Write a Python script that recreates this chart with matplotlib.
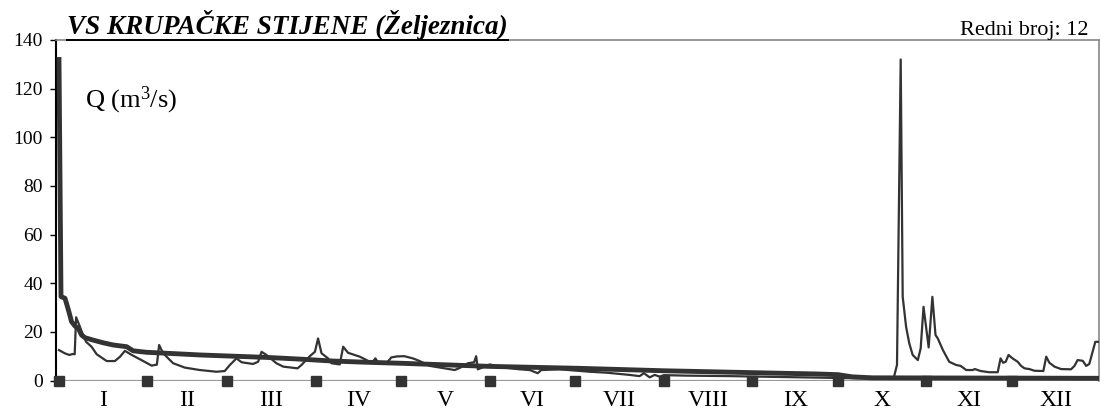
import numpy as np
import matplotlib
matplotlib.use("Agg")
import matplotlib.pyplot as plt
from matplotlib.lines import Line2D

plt.rcParams['font.family'] = ['Liberation Serif', 'DejaVu Serif']
plt.rcParams['mathtext.fontset'] = 'custom'
plt.rcParams['mathtext.rm'] = 'Liberation Serif'
plt.rcParams['mathtext.it'] = 'Liberation Serif:italic'

# Dnevni proticaji (dan u godini, Q m3/s) - tanka linija
dan_q = [0, 2, 3.6, 4.8, 5.5, 6, 7.1, 8, 9.5, 11.4, 13.2, 16.7, 19.6, 21.4, 23.1, 25.5,
         28.4, 32.5, 33.6, 34.3, 35.1, 36.5, 40, 44.1, 49.4, 55.2, 58.1, 59.9, 62.2, 64,
         68, 69.8, 71, 72.7, 76.2, 78.6, 81.5, 83.6, 85, 87.9, 89.7, 90.8, 92, 94.3, 95.5,
         98.4, 99.6, 101.3, 105.4, 107.8, 109.5, 110.9, 112, 114.8, 116.5, 118.5, 121, 124,
         126.4, 130, 135, 138.7, 140.5, 143.3, 145.5, 146.2, 146.8, 151, 156, 161.5, 165,
         167.8, 169, 175.5, 186, 192, 196.5, 200, 203.5, 205, 207, 208.8, 210.5, 212, 220,
         235, 250, 265, 280, 292.5, 293.7, 295, 295.7, 296.9, 298, 299.2, 301, 302, 303,
         304.8, 306.1, 307.2, 308, 309.8, 312, 314.4, 316, 318, 320.2, 321, 323, 326, 329,
         330, 330.9, 331.8, 332.8, 334.2, 336, 337.2, 338.4, 340.1, 341.9, 345, 346, 347.1,
         348.9, 351.2, 354.7, 355.9, 357, 358.8, 360, 361.1, 363.2, 364.5]
q_dnevni = [12.5, 11.2, 10.5, 10.9, 10.8, 26, 22.8, 20, 15.9, 13.9, 10.8, 8, 8, 9.8, 12.2, 10.5,
            8.7, 6.1, 6.4, 6.5, 14.6, 11.2, 7.1, 5.3, 4.3, 3.6, 3.9, 6.4, 9.1, 7.5,
            6.8, 7.7, 11.8, 10.5, 7.1, 5.7, 5.3, 5, 6.4, 10, 11.8, 17.3, 11.2, 9.1, 7.1,
            6.6, 13.9, 11.4, 9.8, 8.4, 7.1, 9.1, 7.1, 7.2, 9.5, 9.9, 10, 9.1,
            8.0, 6.0, 5.0, 4.3, 5.2, 7.1, 7.5, 10, 4.6, 6.6, 5.3, 4.6, 4.3,
            3.0, 4.3, 4.6, 3.6, 3.2, 2.7, 2.3, 1.8, 3.0, 1.3, 2.3, 1.6, 2.2, 2.0,
            1.8, 1.5, 1.2, 0.9, 0.8, 6.4, 132, 34.4, 22, 15.3, 10.5, 8.4, 13.2, 30.3,
            13.6, 34.4, 18.7, 17.3, 12.5, 7.7, 6.4, 6, 4.3, 4.3, 4.7, 3.9, 3.4, 3.4,
            9.1, 7.3, 7.7, 10.5, 9.1, 7.7, 6, 5, 4.7, 4, 3.9, 9.8, 7.3,
            5.7, 4.7, 4.6, 6, 8.4, 8.1, 6, 6.8, 15.9, 15.9]

# Kriva trajanja - debela linija
dan_kt = [0, 0.7, 2.1, 3.3, 4.4, 5.6, 6.8, 7.9, 9.1, 12, 15.5, 19, 23.7, 26, 30.7, 37.7,
          49.4, 61, 72.7, 84.4, 96, 107.8, 119.4, 151, 182.5, 212, 252, 265, 273, 278,
          285, 364.5]
q_kt = [132, 34.5, 33.8, 29, 24.2, 22.4, 21.4, 18.7, 17.6, 16.6, 15.5, 14.6, 13.9, 12.2,
        11.6, 11.2, 10.5, 10, 9.5, 8.8, 8, 7.5, 7.1, 5.8, 5.0, 4.0, 3.0, 2.7, 2.4, 1.5,
        1.1, 0.9]

# Pocetak mjeseci (dan u godini) i oznake
mjesec_start = [0, 31, 59, 90, 120, 151, 181, 212, 243, 273, 304, 334, 365]
mjeseci = ['I', 'II', 'III', 'IV', 'V', 'VI', 'VII', 'VIII', 'IX', 'X', 'XI', 'XII']

boja = '#333333'

fig = plt.figure(figsize=(11.01, 4.09), dpi=100)
ax = fig.add_axes([56 / 1101, 1 - 380.5 / 409, (1099 - 56) / 1101, (380.5 - 40) / 409])

ax.axhline(0, color='#999999', lw=1.6, zorder=1)
ax.plot(dan_kt, q_kt, color=boja, lw=3.5, solid_joinstyle='round', zorder=3)
ax.plot(dan_q, q_dnevni, color=boja, lw=1.6, zorder=4)
ax.plot(mjesec_start[:-1], [0] * 12, ls='none', marker='s', ms=7, color=boja, zorder=5,
        clip_on=False)

ax.set_xlim(-1.05, 364.5)
ax.set_ylim(0, 140)
ax.set_yticks(np.arange(0, 141, 20))
sredine = [(mjesec_start[i] + mjesec_start[i + 1]) / 2 for i in range(12)]
ax.set_xticks(sredine)
ax.set_xticklabels(mjeseci)
ax.tick_params(axis='x', length=0, pad=6.5, labelsize=17)
ax.tick_params(axis='y', length=4.3, width=1, pad=5, labelsize=14, color='black')

for s in ['top', 'right']:
    ax.spines[s].set_color('#888888')
    ax.spines[s].set_linewidth(1.2)
ax.spines['bottom'].set_visible(False)
ax.spines['left'].set_color('black')
ax.spines['left'].set_linewidth(1.5)

fig.text(85 / 1101, 1 - 107.3 / 409, r'Q (m$^3$/s)', fontsize=19, va='baseline')
naslov = fig.text(67 / 1101, 1 - 34 / 409, 'VS KRUPAČKE STIJENE (Željeznica)', fontsize=19.5,
                  fontweight='bold', fontstyle='italic', va='baseline')
fig.text(1088 / 1101, 1 - 35 / 409, 'Redni broj: 12', fontsize=16, ha='right', va='baseline')

# podvlacenje naslova
fig.canvas.draw()
bb = naslov.get_window_extent()
y_lin = bb.y0 + 0.5
fig.add_artist(Line2D([bb.x0, bb.x1], [y_lin, y_lin], transform=None, color='black', lw=1.4))

fig.savefig('out.png', dpi=100)
